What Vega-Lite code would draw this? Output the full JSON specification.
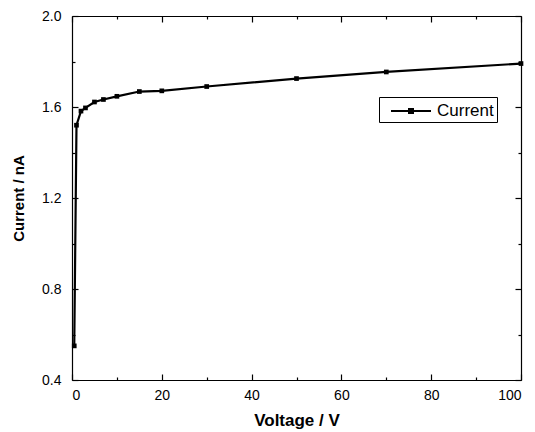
{
  "$schema": "https://vega.github.io/schema/vega-lite/v6.json",
  "autosize": {"type": "none"},
  "width": 449,
  "height": 364,
  "padding": {"left": 72, "top": 16, "right": 14, "bottom": 52},
  "background": "white",
  "config": {
    "view": {"stroke": null},
    "font": "Liberation Sans",
    "axis": {
      "grid": false,
      "labelFont": "Liberation Sans",
      "labelFontSize": 14,
      "labelColor": "black",
      "tickColor": "black",
      "domainColor": "black",
      "domainWidth": 1.2,
      "tickWidth": 1.2,
      "titleFont": "Liberation Sans",
      "titleFontWeight": "bold",
      "titleColor": "black"
    }
  },
  "data": {
    "values": [
      {"voltage": 0.5, "current": 0.55},
      {"voltage": 1, "current": 1.52},
      {"voltage": 2, "current": 1.582},
      {"voltage": 3, "current": 1.596},
      {"voltage": 5, "current": 1.622},
      {"voltage": 7, "current": 1.633},
      {"voltage": 10, "current": 1.647},
      {"voltage": 15, "current": 1.668},
      {"voltage": 20, "current": 1.671},
      {"voltage": 30, "current": 1.69},
      {"voltage": 50, "current": 1.725},
      {"voltage": 70, "current": 1.754},
      {"voltage": 100, "current": 1.791}
    ]
  },
  "resolve": {"axis": {"x": "independent", "y": "independent"}},
  "layer": [
    {
      "mark": {"type": "line", "strokeWidth": 2.2, "point": {"shape": "square", "size": 22, "filled": true}},
      "encoding": {
        "x": {
          "field": "voltage", "type": "quantitative",
          "scale": {"domain": [0, 100], "nice": false, "zero": false},
          "axis": {"orient": "bottom", "values": [0, 20, 40, 60, 80, 100], "tickSize": -6, "labelPadding": 14, "title": "Voltage / V", "titleFontSize": 17, "titlePadding": 10}
        },
        "y": {
          "field": "current", "type": "quantitative",
          "scale": {"domain": [0.4, 2.0], "nice": false, "zero": false},
          "axis": {"orient": "left", "values": [0.4, 0.8, 1.2, 1.6, 2.0], "format": ".1f", "tickSize": -6, "labelPadding": 17, "title": "Current / nA", "titleFontSize": 15, "titlePadding": 15}
        },
        "color": {
          "datum": "Current", "type": "nominal",
          "scale": {"range": ["black"]},
          "legend": {
            "title": null,
            "orient": "none",
            "legendX": 307,
            "legendY": 81,
            "strokeColor": "black",
            "fillColor": "white",
            "padding": 3,
            "symbolType": "M-2,0H2M-0.2,-0.2H0.2V0.2H-0.2Z",
            "symbolSize": 400,
            "symbolStrokeWidth": 2,
            "symbolStrokeColor": "black",
            "symbolFillColor": "black",
            "symbolOffset": 18,
            "labelOffset": 15,
            "labelFontSize": 17,
            "labelFont": "Liberation Sans",
            "labelColor": "black"
          }
        }
      }
    },
    {
      "mark": {"type": "point", "opacity": 0},
      "encoding": {
        "x": {"field": "voltage", "type": "quantitative", "axis": {"orient": "bottom", "values": [10, 30, 50, 70, 90], "tickSize": -3, "labels": false, "domain": false, "title": null}},
        "y": {"field": "current", "type": "quantitative", "axis": {"orient": "left", "values": [0.6, 1.0, 1.4, 1.8], "tickSize": -3, "labels": false, "domain": false, "title": null}}
      }
    },
    {
      "mark": {"type": "point", "opacity": 0},
      "encoding": {
        "x": {"field": "voltage", "type": "quantitative", "axis": {"orient": "top", "values": [0, 20, 40, 60, 80, 100], "tickSize": -6, "labels": false, "title": null}},
        "y": {"field": "current", "type": "quantitative", "axis": {"orient": "right", "values": [0.4, 0.8, 1.2, 1.6, 2.0], "tickSize": -6, "labels": false, "title": null}}
      }
    },
    {
      "mark": {"type": "point", "opacity": 0},
      "encoding": {
        "x": {"field": "voltage", "type": "quantitative", "axis": {"orient": "top", "values": [10, 30, 50, 70, 90], "tickSize": -3, "labels": false, "domain": false, "title": null}},
        "y": {"field": "current", "type": "quantitative", "axis": {"orient": "right", "values": [0.6, 1.0, 1.4, 1.8], "tickSize": -3, "labels": false, "domain": false, "title": null}}
      }
    }
  ]
}
